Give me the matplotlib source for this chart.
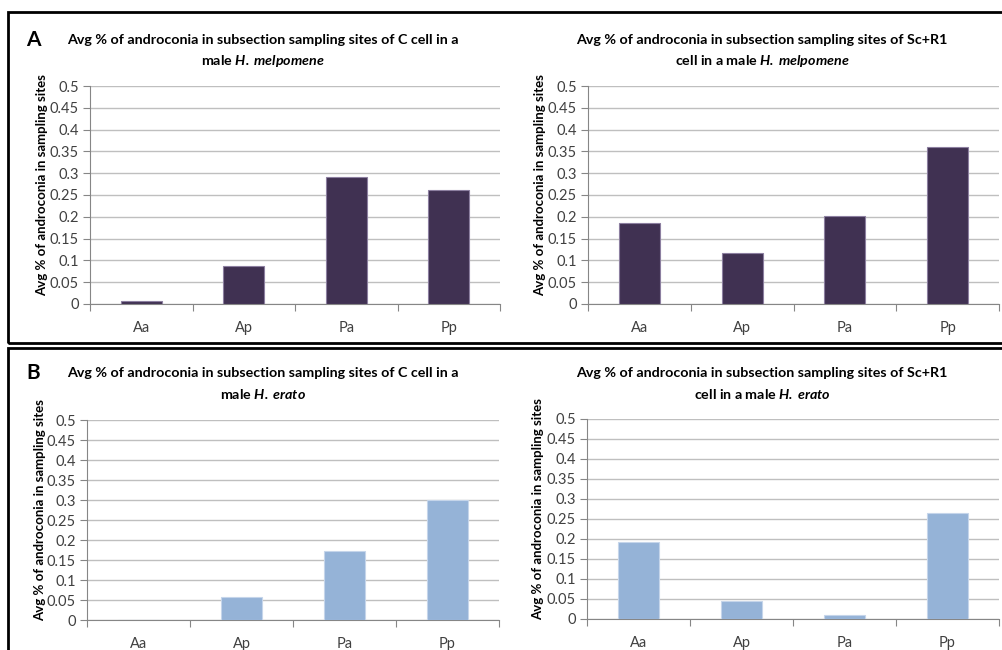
import matplotlib
matplotlib.use("Agg")
import matplotlib.pyplot as plt
from matplotlib.patches import Rectangle

plt.rcParams['font.family'] = ['Lato', 'DejaVu Sans']
plt.rcParams['mathtext.fontset'] = 'custom'
plt.rcParams['mathtext.bfit'] = 'Lato:italic:bold'
plt.rcParams['mathtext.rm'] = 'Lato'

categories = ['Aa', 'Ap', 'Pa', 'Pp']
mel_c = [0.008, 0.088, 0.291, 0.262]
mel_sc = [0.186, 0.118, 0.202, 0.360]
era_c = [0.0, 0.058, 0.173, 0.300]
era_sc = [0.192, 0.045, 0.011, 0.264]

dark = '#403152'
light = '#95b3d7'

W, H = 1002, 650
fig = plt.figure(figsize=(W / 100, H / 100), dpi=100)


def px(x0, y0, x1, y1):
    # pixel box -> figure fraction rect
    return [x0 / W, 1 - y1 / H, (x1 - x0) / W, (y1 - y0) / H]


def draw(box, values, color, edge, title1, title2, tcx, ty, ylx):
    ax = fig.add_axes(px(*box))
    x = range(len(values))
    ax.bar(x, values, width=0.4, color=color, edgecolor=edge, linewidth=0.8, zorder=3)
    ax.set_xlim(-0.5, len(values) - 0.5)
    ax.set_ylim(0, 0.5)
    ax.set_yticks([i * 0.05 for i in range(11)])
    ax.set_yticklabels(['0', '0.05', '0.1', '0.15', '0.2', '0.25', '0.3', '0.35', '0.4', '0.45', '0.5'])
    ax.set_xticks([i - 0.5 for i in range(len(values) + 1)], minor=False)
    ax.set_xticklabels([])
    ax.set_xticks(list(x), minor=True)
    ax.set_xticklabels(categories, minor=True)
    ax.tick_params(axis='x', which='major', length=5, color='#868686', direction='out')
    ax.tick_params(axis='x', which='minor', length=0, pad=12, labelsize=10.5, labelcolor='#404040')
    ax.tick_params(axis='y', length=5, color='#868686', labelsize=10.5, labelcolor='#404040', pad=3)
    ax.grid(axis='y', color='#bfbfbf', linewidth=1, zorder=0)
    ax.set_axisbelow(True)
    for s in ['top', 'right']:
        ax.spines[s].set_visible(False)
    for s in ['left', 'bottom']:
        ax.spines[s].set_color('#868686')
    fig.text(tcx / W, 1 - ty / H, title1, ha='center', va='center', fontsize=10.3, fontweight='bold')
    fig.text(tcx / W, 1 - (ty + 21) / H, title2, ha='center', va='center', fontsize=10.3, fontweight='bold')
    y_mid = (box[1] + box[3]) / 2 - 10
    fig.text(ylx / W, 1 - y_mid / H, 'Avg % of androconia in sampling sites', rotation=90,
             ha='center', va='center', fontsize=9.5, fontweight='bold')
    return ax


draw((90, 86, 500, 304), mel_c, dark, '#8c7fa0',
     'Avg % of androconia in subsection sampling sites of C cell in a',
     r'male $\mathbfit{H.\,melpomene}$', 263, 40, 42)
draw((588, 86, 999, 304), mel_sc, dark, '#8c7fa0',
     'Avg % of androconia in subsection sampling sites of Sc+R1',
     r'cell in a male $\mathbfit{H.\,melpomene}$', 762, 40, 540)
draw((87, 420, 499, 620), era_c, light, '#c5d5ea',
     'Avg % of androconia in subsection sampling sites of C cell in a',
     r'male $\mathbfit{H.\,erato}$', 263, 373, 40)
draw((587, 419, 999, 619), era_sc, light, '#c5d5ea',
     'Avg % of androconia in subsection sampling sites of Sc+R1',
     r'cell in a male $\mathbfit{H.\,erato}$', 762, 373, 538)

# panel frames
fig.patches.append(Rectangle((8 / W, 1 - 343 / H), 1.1, 331 / H, transform=fig.transFigure,
                             fill=False, edgecolor='black', linewidth=2))
fig.patches.append(Rectangle((8 / W, -0.1), 1.1, (1 - 348 / H) + 0.1, transform=fig.transFigure,
                             fill=False, edgecolor='black', linewidth=2))
fig.text(33 / W, 1 - 40 / H, 'A', ha='center', va='center', fontsize=15, fontweight='bold')
fig.text(33 / W, 1 - 373 / H, 'B', ha='center', va='center', fontsize=15, fontweight='bold')

fig.savefig('out.png', dpi=100)
